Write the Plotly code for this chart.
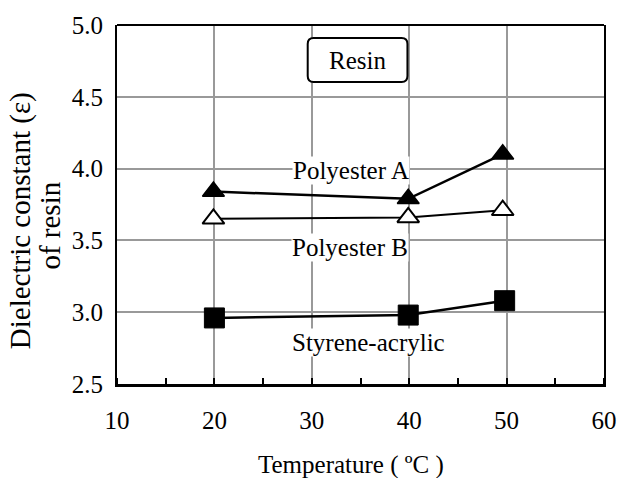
import plotly.graph_objects as go

# Data
temp_a = [19.9, 39.9, 49.6]
poly_a = [3.84, 3.79, 4.10]
temp_b = [19.9, 39.9, 49.6]
poly_b = [3.65, 3.66, 3.71]
temp_s = [20.0, 39.9, 49.8]
styrene = [2.96, 2.98, 3.08]

x_ticks = [10, 20, 30, 40, 50, 60]
y_ticks = [2.5, 3.0, 3.5, 4.0, 4.5, 5.0]

FONT = "Liberation Serif"

fig = go.Figure()

fig.add_trace(go.Scatter(
    x=temp_a, y=poly_a, mode="lines+markers", name="Polyester A",
    line=dict(color="black", width=2.5),
    marker=dict(symbol="triangle-up", size=19, color="black",
                line=dict(color="black", width=1.5)),
))
fig.add_trace(go.Scatter(
    x=temp_b, y=poly_b, mode="lines+markers", name="Polyester B",
    line=dict(color="black", width=2),
    marker=dict(symbol="triangle-up", size=19, color="white",
                line=dict(color="black", width=2)),
))
fig.add_trace(go.Scatter(
    x=temp_s, y=styrene, mode="lines+markers", name="Styrene-acrylic",
    line=dict(color="black", width=2.5),
    marker=dict(symbol="square", size=20, color="black",
                line=dict(color="black", width=1)),
))

def label(text, x, y):
    fig.add_annotation(x=x, y=y, xref="x", yref="y", text=text, showarrow=False,
                       xanchor="center", yanchor="middle",
                       bgcolor="white", borderpad=0,
                       font=dict(family=FONT, size=25, color="black"))

label("Polyester A", 34.0, 3.99)
label("Polyester B", 33.9, 3.45)
label("Styrene-acrylic", 35.8, 2.79)

# Rounded "Resin" box (paper coordinates)
x0, x1, y0, y1 = 0.3916, 0.5964, 0.8412, 0.9638
rx, ry = 0.012, 0.0167
path = (f"M {x0+rx},{y0} L {x1-rx},{y0} Q {x1},{y0} {x1},{y0+ry} "
        f"L {x1},{y1-ry} Q {x1},{y1} {x1-rx},{y1} L {x0+rx},{y1} "
        f"Q {x0},{y1} {x0},{y1-ry} L {x0},{y0+ry} Q {x0},{y0} {x0+rx},{y0} Z")
fig.add_shape(type="path", path=path, xref="paper", yref="paper",
              line=dict(color="black", width=2), fillcolor="white", layer="above")
fig.add_annotation(x=(x0+x1)/2, y=(y0+y1)/2, xref="paper", yref="paper",
                   text="Resin", showarrow=False, xanchor="center", yanchor="middle",
                   font=dict(family=FONT, size=25, color="black"))

# top border
fig.add_shape(type="line", xref="paper", yref="paper", x0=0, x1=1, y0=1, y1=1,
              line=dict(color="black", width=2))

# axis titles as annotations
fig.add_annotation(x=-0.1988, y=0.454, xref="paper", yref="paper",
                   text="Dielectric constant (ε)", textangle=-90, showarrow=False,
                   xanchor="center", yanchor="middle",
                   font=dict(family=FONT, size=29, color="black"))
fig.add_annotation(x=-0.1385, y=0.440, xref="paper", yref="paper",
                   text="of resin", textangle=-90, showarrow=False,
                   xanchor="center", yanchor="middle",
                   font=dict(family=FONT, size=29, color="black"))
fig.add_annotation(x=0.48, y=-0.2256, xref="paper", yref="paper",
                   text="Temperature ( ºC )", showarrow=False,
                   xanchor="center", yanchor="middle",
                   font=dict(family=FONT, size=25, color="black"))

fig.update_layout(
    width=629, height=478,
    margin=dict(l=117, r=14, t=25, b=94),
    paper_bgcolor="white", plot_bgcolor="white",
    showlegend=False,
    font=dict(family=FONT, size=25, color="black"),
)
fig.update_xaxes(
    range=[10, 60], tickvals=x_ticks, ticktext=[str(v) for v in x_ticks],
    showgrid=True, gridcolor="#999999", gridwidth=2, zeroline=False,
    showline=True, linecolor="black", linewidth=3,
    ticks="", ticklabelstandoff=12,
    minor=dict(dtick=5, ticks="inside", ticklen=6, tickwidth=2, tickcolor="black", showgrid=False),
    tickfont=dict(family=FONT, size=25),
)
fig.update_yaxes(
    range=[2.5, 5.0], tickvals=y_ticks, ticktext=[f"{v:.1f}" for v in y_ticks],
    showgrid=True, gridcolor="#999999", gridwidth=2, zeroline=False,
    showline=True, linecolor="black", linewidth=2, mirror=True,
    ticks="", ticklabelstandoff=7,
    tickfont=dict(family=FONT, size=25),
)

fig.write_html("out.html")
